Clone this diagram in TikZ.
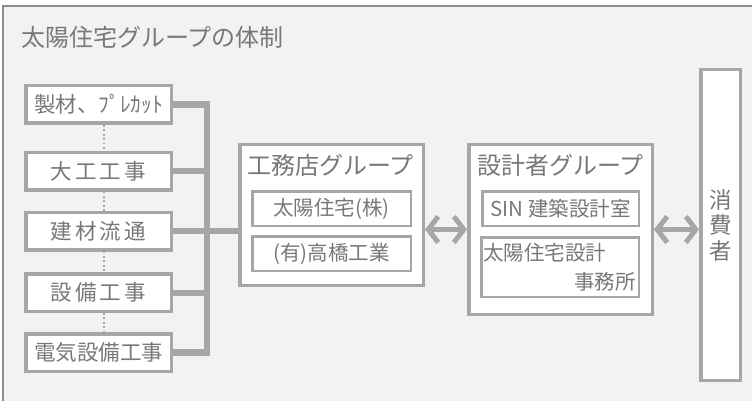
\documentclass[tikz,border=0pt]{standalone}
\usepackage{fontspec}
\setmainfont{Noto Sans CJK JP}
\usetikzlibrary{arrows.meta}
\definecolor{bgray}{HTML}{A6A6A6}
\definecolor{tgray}{HTML}{787878}
\definecolor{panel}{HTML}{F2F2F2}
\definecolor{framec}{HTML}{8C8C8C}
\definecolor{dotc}{HTML}{A8A8A8}
\newcommand\myfs[1]{\fontsize{#1}{#1}\selectfont}
\newcommand\lsp{\addfontfeature{LetterSpace=14}}
\tikzset{
  lbox/.style={draw=bgray, line width=3.5pt, fill=white, minimum width=145.5pt, minimum height=37.5pt, inner sep=0pt, text=tgray, font=\myfs{21.5}},
  gbox/.style={draw=bgray, line width=3.5pt, fill=white, inner sep=0pt, text=tgray},
  ibox/.style={draw=bgray, line width=2.5pt, fill=white, inner sep=0pt, text=tgray, font=\myfs{20.5}},
  gtitle/.style={inner sep=0pt, text=tgray, font=\myfs{24}},
  itext/.style={inner sep=0pt, text=tgray, font=\myfs{20.5}},
  bus/.style={draw=bgray, line width=6.5pt, line join=miter},
  branch/.style={draw=bgray, line width=6pt},
  dar/.style={draw=bgray, line width=5pt, {Straight Barb[length=10pt,width=26pt]}-{Straight Barb[length=10pt,width=26pt]}},
  dotl/.style={draw=dotc, line width=1.8pt, dash pattern=on 1.8pt off 2.6pt}
}
\begin{document}
\begin{tikzpicture}[x=1pt,y=-1pt]
\useasboundingbox (0,0) rectangle (752,401);
\fill[white] (0,0) rectangle (752,401);
\fill[panel] (3,6) rectangle (752,401);
\draw[framec, line width=1.5pt] (3,401) -- (3,6) -- (752,6);
\node[gtitle, anchor=west] (title) at (21,37) {太陽住宅グループの体制};

% left boxes
\node[lbox] (b1) at (98.5,104.5) {製材、ﾌﾟﾚｶｯﾄ};
\node[lbox] (b2) at (98.5,171) {\lsp 大工工事};
\node[lbox] (b3) at (98.5,231) {\lsp 建材流通};
\node[lbox] (b4) at (98.5,292.5) {\lsp 設備工事};
\node[lbox] (b5) at (98.5,352.5) {電気設備工事};

\draw[dotl] ([xshift=5.5pt]b1.south) -- ([xshift=5.5pt]b2.north);
\draw[dotl] ([xshift=5.5pt]b2.south) -- ([xshift=5.5pt]b3.north);
\draw[dotl] ([xshift=5.5pt]b3.south) -- ([xshift=5.5pt]b4.north);
\draw[dotl] ([xshift=5.5pt]b4.south) -- ([xshift=5.5pt]b5.north);

% groups
\node[gbox, minimum width=183.5pt, minimum height=140.5pt] (gk) at (331.5,215) {};
\node[gtitle, anchor=west] (gkt) at (247,165) {工務店グループ};
\node[ibox, minimum width=158.5pt, minimum height=34.5pt] (gk1) at (331.5,208.5) {太陽住宅(株)};
\node[ibox, minimum width=158.5pt, minimum height=34.5pt] (gk2) at (331.5,253.5) {(有)高橋工業};

\node[gbox, minimum width=183.5pt, minimum height=169.5pt] (sk) at (560.5,229.5) {};
\node[gtitle, anchor=west] (skt) at (477,165) {設計者グループ};
\node[ibox, minimum width=156.5pt, minimum height=34.5pt] (sk1) at (560.5,208.5) {SIN 建築設計室};
\node[ibox, minimum width=157.5pt, minimum height=59.5pt] (sk2) at (560,267) {};
\node[itext, anchor=west] (sk2a) at (483,253) {太陽住宅設計};
\node[itext, anchor=east] (sk2b) at (636,282) {事務所};

\node[gbox, minimum width=39.5pt, minimum height=310.5pt, align=center, font=\fontsize{22.5}{25.5}\selectfont] (cons) at (720.5,225) {消\\費\\者};

% bus
\coordinate (busT) at (207,104.5);
\coordinate (busB) at (207,352.5);
\draw[bus] (b1.east) -- (busT) -- (busB) -- (b5.east);
\draw[branch] (b2.east) -- (b2.east -| busT);
\draw[branch] (b4.east) -- (b4.east -| busT);
\draw[branch] (b3.east) -- (b3.east -| gk.west);

% arrows
\draw[dar] (gk.east |- sk.west) -- (sk.west);
\draw[dar] (sk.east) -- (cons.west |- sk.east);
\end{tikzpicture}
\end{document}
